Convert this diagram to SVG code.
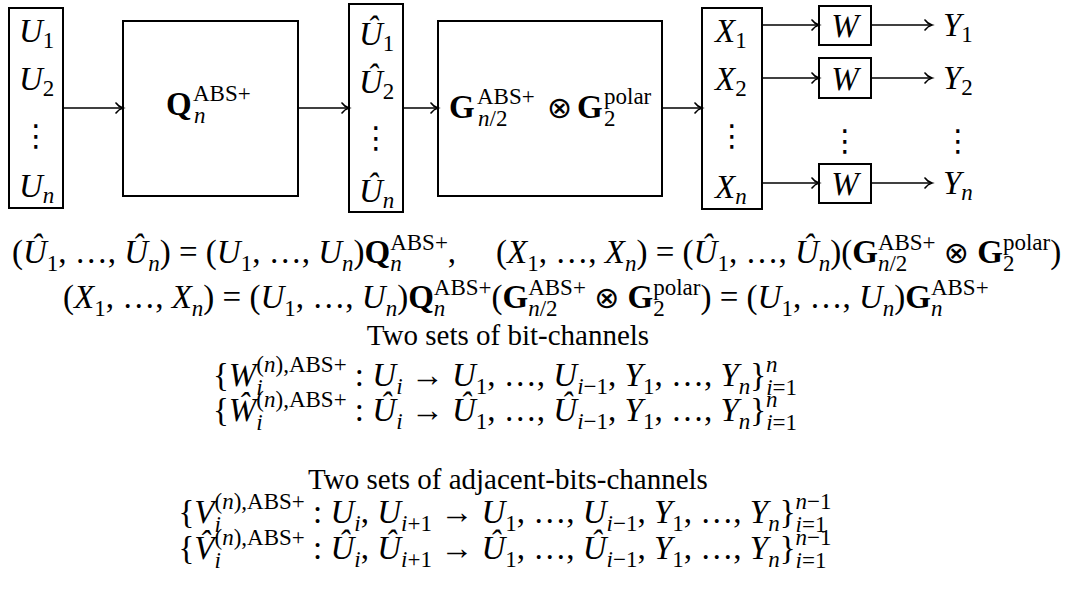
<svg xmlns="http://www.w3.org/2000/svg" width="1078" height="593" viewBox="0 0 1078 593">
<defs>
<marker id="ah" markerUnits="userSpaceOnUse" markerWidth="10" markerHeight="14" refX="0" refY="0" viewBox="-9 -7 10 14" orient="auto" overflow="visible">
<path d="M-7,-5 C-5,-2 -2,-0.6 0,0 C-2,0.6 -5,2 -7,5" fill="none" stroke="#000" stroke-width="1.6" stroke-linecap="round"/>
</marker>
<style>
.box{fill:none;stroke:#000;stroke-width:2}
.c line{stroke:#000;stroke-width:1.6;marker-end:url(#ah)}
text{font-family:"Liberation Serif",serif;font-size:33px;fill:#000}
.i{font-style:italic}
.u{font-style:normal}
.b{font-weight:bold;font-style:normal}
.s{font-size:23px}
.d{font-family:"DejaVu Sans",sans-serif;font-style:normal;font-size:30px}
.o{font-family:"DejaVu Sans",sans-serif;font-style:normal;font-size:30px}
.t{font-size:29px;font-style:normal}
</style>
</defs>
<rect x="0" y="0" width="1078" height="593" fill="#fff"/>
<g id="U">
<rect class="box" x="9" y="8" width="54" height="200"/>
<text class="i" x="19" y="42">U<tspan class="s u" dy="6">1</tspan></text>
<text class="i" x="19" y="90">U<tspan class="s u" dy="6">2</tspan></text>
<text class="d" x="36" y="146" text-anchor="middle">⋮</text>
<text class="i" x="19" y="197">U<tspan class="s" dy="6">n</tspan></text>
</g>
<g id="Q">
<rect class="box" x="123" y="21" width="175" height="175"/>
<text class="b" x="166" y="115">Q</text>
<text class="s" x="193" y="101">ABS+</text>
<text class="s i" x="194" y="123">n</text>
</g>
<g id="Uhat">
<rect class="box" x="349" y="4" width="54" height="208"/>
<text class="i" x="359" y="45">Û<tspan class="s u" dy="6">1</tspan></text>
<text class="i" x="359" y="93">Û<tspan class="s u" dy="6">2</tspan></text>
<text class="d" x="376" y="148" text-anchor="middle">⋮</text>
<text class="i" x="359" y="202">Û<tspan class="s" dy="6">n</tspan></text>
</g>
<g id="G">
<rect class="box" x="438" y="21" width="224" height="175"/>
<text class="b" x="449" y="118">G</text>
<text class="s" x="477" y="104">ABS+</text>
<text class="s" x="478" y="126"><tspan class="i">n</tspan>/2</text>
<text class="o" x="547" y="118">⊗</text>
<text class="b" x="577" y="118">G</text>
<text class="s" x="604" y="104">polar</text>
<text class="s" x="604" y="126">2</text>
</g>
<g id="X">
<rect class="box" x="702" y="8" width="60" height="201"/>
<text class="i" x="715" y="42">X<tspan class="s u" dy="6">1</tspan></text>
<text class="i" x="715" y="90">X<tspan class="s u" dy="6">2</tspan></text>
<text class="d" x="732" y="146" text-anchor="middle">⋮</text>
<text class="i" x="715" y="198">X<tspan class="s" dy="6">n</tspan></text>
</g>
<g id="W1">
<rect class="box" x="819" y="6" width="52" height="39"/>
<text class="i" x="845" y="37" text-anchor="middle">W</text>
</g>
<g id="W2">
<rect class="box" x="819" y="58" width="52" height="40"/>
<text class="i" x="845" y="90" text-anchor="middle">W</text>
</g>
<g id="Wdots">
<text class="d" x="845" y="151" text-anchor="middle">⋮</text>
</g>
<g id="Wn">
<rect class="box" x="819" y="164" width="52" height="39"/>
<text class="i" x="845" y="195" text-anchor="middle">W</text>
</g>
<g id="Y">
<text class="i" x="943" y="36">Y<tspan class="s u" dy="6">1</tspan></text>
<text class="i" x="943" y="89">Y<tspan class="s u" dy="6">2</tspan></text>
<text class="d" x="958" y="151" text-anchor="middle">⋮</text>
<text class="i" x="943" y="194">Y<tspan class="s" dy="6">n</tspan></text>
</g>
<g id="connectors" class="c">
<line x1="63" y1="108" x2="123" y2="108"/>
<line x1="298" y1="108" x2="349" y2="108"/>
<line x1="403" y1="108" x2="438" y2="108"/>
<line x1="662" y1="108" x2="702" y2="108"/>
<line x1="762" y1="25" x2="819" y2="25"/>
<line x1="762" y1="78" x2="819" y2="78"/>
<line x1="762" y1="183" x2="819" y2="183"/>
<line x1="871" y1="25" x2="932" y2="25"/>
<line x1="871" y1="78" x2="932" y2="78"/>
<line x1="871" y1="183" x2="932" y2="183"/>
</g>
<g id="equations">
<text class="i" x="12" y="263"><tspan class="u">(</tspan>Û<tspan class="s u" dy="8">1</tspan><tspan class="u" dy="-8">, …, </tspan>Û<tspan class="s" dy="8">n</tspan><tspan class="u" dy="-8">) = (</tspan>U<tspan class="s u" dy="8">1</tspan><tspan class="u" dy="-8">, …, </tspan>U<tspan class="s" dy="8">n</tspan><tspan class="u" dy="-8">)</tspan><tspan class="b">Q</tspan><tspan class="s" dy="8">n</tspan><tspan class="s u" dx="-11.5" dy="-21">ABS+</tspan><tspan class="u" dy="13">,</tspan><tspan class="u" dx="40">(</tspan>X<tspan class="s u" dy="8">1</tspan><tspan class="u" dy="-8">, …, </tspan>X<tspan class="s" dy="8">n</tspan><tspan class="u" dy="-8">) = (</tspan>Û<tspan class="s u" dy="8">1</tspan><tspan class="u" dy="-8">, …, </tspan>Û<tspan class="s" dy="8">n</tspan><tspan class="u" dy="-8">)(</tspan><tspan class="b">G</tspan><tspan class="s" dy="8">n</tspan><tspan class="s u">/2</tspan><tspan class="s u" dx="-29.4" dy="-21">ABS+</tspan><tspan class="u" dy="13"> </tspan><tspan class="o">⊗</tspan><tspan class="u"> </tspan><tspan class="b">G</tspan><tspan class="s u" dy="8">2</tspan><tspan class="s u" dx="-11.5" dy="-21">polar</tspan><tspan class="u" dy="13">)</tspan></text>
<text class="i" x="63" y="308"><tspan class="u">(</tspan>X<tspan class="s u" dy="8">1</tspan><tspan class="u" dy="-8">, …, </tspan>X<tspan class="s" dy="8">n</tspan><tspan class="u" dy="-8">) = (</tspan>U<tspan class="s u" dy="8">1</tspan><tspan class="u" dy="-8">, …, </tspan>U<tspan class="s" dy="8">n</tspan><tspan class="u" dy="-8">)</tspan><tspan class="b">Q</tspan><tspan class="s" dy="8">n</tspan><tspan class="s u" dx="-11.5" dy="-21">ABS+</tspan><tspan class="u" dy="13">(</tspan><tspan class="b">G</tspan><tspan class="s" dy="8">n</tspan><tspan class="s u">/2</tspan><tspan class="s u" dx="-29.4" dy="-21">ABS+</tspan><tspan class="u" dy="13"> </tspan><tspan class="o">⊗</tspan><tspan class="u"> </tspan><tspan class="b">G</tspan><tspan class="s u" dy="8">2</tspan><tspan class="s u" dx="-11.5" dy="-21">polar</tspan><tspan class="u" dy="13">) = (</tspan>U<tspan class="s u" dy="8">1</tspan><tspan class="u" dy="-8">, …, </tspan>U<tspan class="s" dy="8">n</tspan><tspan class="u" dy="-8">)</tspan><tspan class="b">G</tspan><tspan class="s" dy="8">n</tspan><tspan class="s u" dx="-11.5" dy="-21">ABS+</tspan></text>
</g>
<g id="bitchannels">
<text class="t" x="508" y="345" text-anchor="middle">Two sets of bit-channels</text>
<text class="i" x="505" y="386" text-anchor="middle"><tspan class="u">{</tspan>W<tspan class="s" dy="9">i</tspan><tspan class="s u" dx="-6.4" dy="-23">(<tspan class="i">n</tspan>),ABS+</tspan><tspan class="u" dy="14"> : </tspan>U<tspan class="s" dy="8">i</tspan><tspan class="u" dy="-8"> → </tspan>U<tspan class="s u" dy="8">1</tspan><tspan class="u" dy="-8">, …, </tspan>U<tspan class="s" dy="8">i</tspan><tspan class="s u">−1</tspan><tspan class="u" dy="-8">, </tspan>Y<tspan class="s u" dy="8">1</tspan><tspan class="u" dy="-8">, …, </tspan>Y<tspan class="s" dy="8">n</tspan><tspan class="u" dy="-8">}</tspan><tspan class="s" dy="9">i</tspan><tspan class="s u">=1</tspan><tspan class="s" dx="-30.9" dy="-23">n</tspan></text>
<text class="i" x="505" y="421" text-anchor="middle"><tspan class="u">{</tspan>Ŵ<tspan class="s" dy="9">i</tspan><tspan class="s u" dx="-6.4" dy="-23">(<tspan class="i">n</tspan>),ABS+</tspan><tspan class="u" dy="14"> : </tspan>Û<tspan class="s" dy="8">i</tspan><tspan class="u" dy="-8"> → </tspan>Û<tspan class="s u" dy="8">1</tspan><tspan class="u" dy="-8">, …, </tspan>Û<tspan class="s" dy="8">i</tspan><tspan class="s u">−1</tspan><tspan class="u" dy="-8">, </tspan>Y<tspan class="s u" dy="8">1</tspan><tspan class="u" dy="-8">, …, </tspan>Y<tspan class="s" dy="8">n</tspan><tspan class="u" dy="-8">}</tspan><tspan class="s" dy="9">i</tspan><tspan class="s u">=1</tspan><tspan class="s" dx="-30.9" dy="-23">n</tspan></text>
</g>
<g id="adjchannels">
<text class="t" x="508" y="489" text-anchor="middle">Two sets of adjacent-bits-channels</text>
<text class="i" x="505" y="523" text-anchor="middle"><tspan class="u">{</tspan>V<tspan class="s" dy="9">i</tspan><tspan class="s u" dx="-6.4" dy="-23">(<tspan class="i">n</tspan>),ABS+</tspan><tspan class="u" dy="14"> : </tspan>U<tspan class="s" dy="8">i</tspan><tspan class="u" dy="-8">, </tspan>U<tspan class="s" dy="8">i</tspan><tspan class="s u">+1</tspan><tspan class="u" dy="-8"> → </tspan>U<tspan class="s u" dy="8">1</tspan><tspan class="u" dy="-8">, …, </tspan>U<tspan class="s" dy="8">i</tspan><tspan class="s u">−1</tspan><tspan class="u" dy="-8">, </tspan>Y<tspan class="s u" dy="8">1</tspan><tspan class="u" dy="-8">, …, </tspan>Y<tspan class="s" dy="8">n</tspan><tspan class="u" dy="-8">}</tspan><tspan class="s" dy="9">i</tspan><tspan class="s u">=1</tspan><tspan class="s" dx="-30.9" dy="-23">n</tspan><tspan class="s u">−1</tspan></text>
<text class="i" x="505" y="559" text-anchor="middle"><tspan class="u">{</tspan>V̂<tspan class="s" dy="9">i</tspan><tspan class="s u" dx="-6.4" dy="-23">(<tspan class="i">n</tspan>),ABS+</tspan><tspan class="u" dy="14"> : </tspan>Û<tspan class="s" dy="8">i</tspan><tspan class="u" dy="-8">, </tspan>Û<tspan class="s" dy="8">i</tspan><tspan class="s u">+1</tspan><tspan class="u" dy="-8"> → </tspan>Û<tspan class="s u" dy="8">1</tspan><tspan class="u" dy="-8">, …, </tspan>Û<tspan class="s" dy="8">i</tspan><tspan class="s u">−1</tspan><tspan class="u" dy="-8">, </tspan>Y<tspan class="s u" dy="8">1</tspan><tspan class="u" dy="-8">, …, </tspan>Y<tspan class="s" dy="8">n</tspan><tspan class="u" dy="-8">}</tspan><tspan class="s" dy="9">i</tspan><tspan class="s u">=1</tspan><tspan class="s" dx="-30.9" dy="-23">n</tspan><tspan class="s u">−1</tspan></text>
</g>
</svg>
